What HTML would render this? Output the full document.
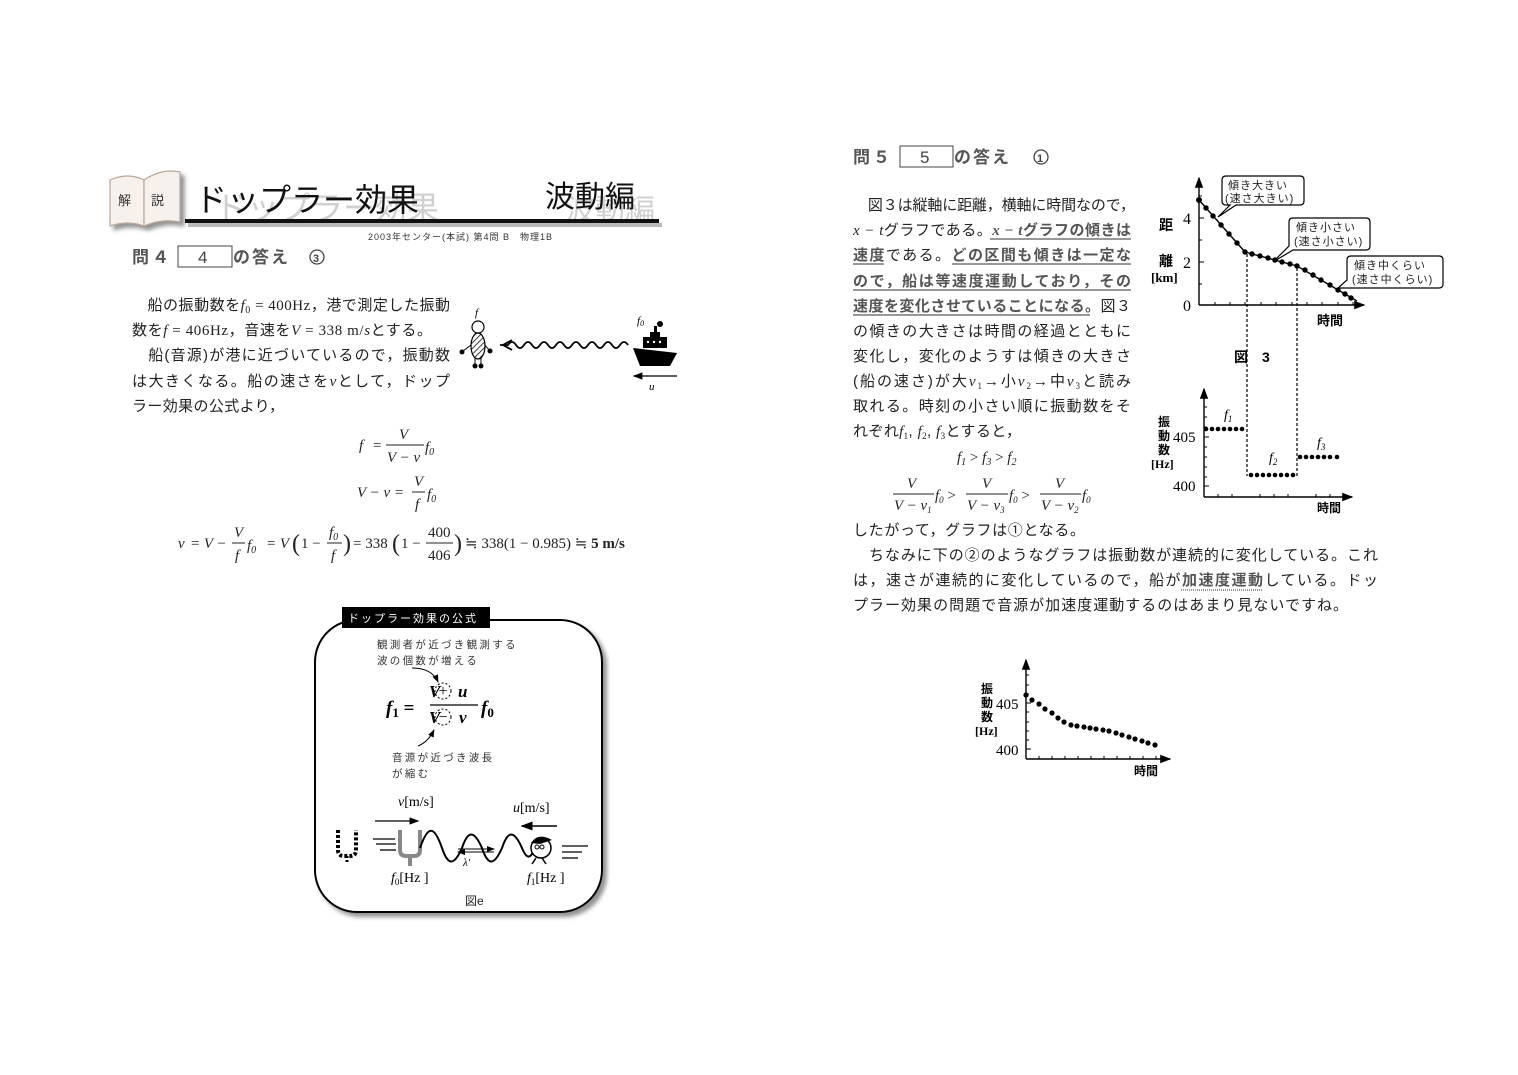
<!DOCTYPE html>
<html><head><meta charset="utf-8"><style>
html,body{margin:0;padding:0;background:#fff}
svg{display:block}
.j{font-family:"Liberation Sans","Noto Sans CJK JP",sans-serif}
.m{font-family:"Liberation Serif","DejaVu Serif",serif;font-style:italic}
.r{font-family:"Liberation Serif","DejaVu Serif",serif}
</style></head><body>
<svg width="1518" height="1075" viewBox="0 0 1518 1075" xmlns="http://www.w3.org/2000/svg">
<defs>
<filter id="sh" x="-10%" y="-10%" width="130%" height="130%"><feDropShadow dx="4" dy="4" stdDeviation="2" flood-color="#777" flood-opacity="0.8"/></filter>
<marker id="ah" markerWidth="8" markerHeight="8" refX="7" refY="4" orient="auto"><path d="M0,1 L8,4 L0,7 z" fill="#000"/></marker>
<pattern id="hatch" width="4" height="4" patternUnits="userSpaceOnUse" patternTransform="rotate(45)"><line x1="0" y1="0" x2="0" y2="4" stroke="#000" stroke-width="1.5"/></pattern>
</defs>

<!-- Book icon -->
<g filter="url(#sh)">
<path d="M110,180 Q128,172 144,180 L144,226 Q128,220 110,226 Z" fill="#f6f1ec" stroke="#b9a898" stroke-width="1.2"/>
<path d="M144,180 Q162,168 180,172 L180,222 Q162,218 144,226 Z" fill="#f6f1ec" stroke="#b9a898" stroke-width="1.2"/>
</g>
<text x="118" y="205" class="j" font-size="13" fill="#333">解</text>
<text x="151" y="205" class="j" font-size="13" fill="#333">説</text>

<!-- Title -->
<text x="215" y="219" class="j" font-size="32" fill="#d0d0d0">ドップラー効果</text>
<text x="195" y="211" class="j" font-size="32" fill="#111">ドップラー効果</text>
<text x="565" y="220" class="j" font-size="30" fill="#d0d0d0">波動編</text>
<text x="545" y="207" class="j" font-size="30" fill="#111">波動編</text>
<rect x="188" y="223" width="474" height="4" fill="#bbb"/>
<rect x="185" y="219" width="474" height="4" fill="#111"/>
<text x="368" y="240" class="j" font-size="9" fill="#333" letter-spacing="1">2003年センター(本試) 第4問 B　物理1B</text>

<!-- 問4 -->
<text x="132" y="263" class="j" font-size="17" font-weight="bold" fill="#555" letter-spacing="3">問４</text>
<rect x="178" y="246" width="54" height="21" fill="none" stroke="#444" stroke-width="1"/>
<text x="198" y="263" class="j" font-size="17" fill="#444">4</text>
<text x="233" y="263" class="j" font-size="17" font-weight="bold" fill="#555" letter-spacing="2">の答え</text>
<circle cx="317" cy="257" r="7" fill="none" stroke="#444" stroke-width="1.3"/>
<text x="313" y="262" class="j" font-size="11" font-weight="bold" fill="#444">3</text>

<!-- left paragraph -->
<g class="j" font-size="15" fill="#222">
<text x="132" y="310" textLength="318" lengthAdjust="spacing">　船の振動数を<tspan class="m">f</tspan><tspan class="r" font-size="10" dy="3">0</tspan><tspan class="r" dy="-3"> = 400Hz</tspan>，港で測定した振動</text>
<text x="132" y="335" textLength="300" lengthAdjust="spacing">数を<tspan class="m">f</tspan><tspan class="r"> = 406Hz</tspan>，音速を<tspan class="m">V</tspan><tspan class="r"> = 338 m/</tspan><tspan class="m">s</tspan>とする。</text>
<text x="132" y="360" textLength="318" lengthAdjust="spacing">　船(音源)が港に近づいているので，振動数</text>
<text x="132" y="386" textLength="318" lengthAdjust="spacing">は大きくなる。船の速さを<tspan class="m">v</tspan>として，ドップ</text>
<text x="132" y="411" textLength="152" lengthAdjust="spacing">ラー効果の公式より，</text>
</g>

<!-- observer & ship figure -->
<text x="475" y="316" class="m" font-size="11">f</text>
<circle cx="478" cy="327" r="6" fill="#fff" stroke="#000" stroke-width="1.2"/>
<ellipse cx="478" cy="346" rx="7" ry="13" fill="url(#hatch)" stroke="#000" stroke-width="1.2"/>
<line x1="471" y1="345" x2="463" y2="351" stroke="#000"/><circle cx="462" cy="352" r="2.5"/>
<line x1="485" y1="345" x2="489" y2="350" stroke="#000"/><circle cx="490" cy="351" r="2.5"/>
<line x1="475" y1="358" x2="475" y2="364" stroke="#000"/><line x1="481" y1="358" x2="481" y2="364" stroke="#000"/>
<circle cx="475" cy="366" r="2.5"/><circle cx="481" cy="366" r="2.5"/>
<path d="M628,345 q-4,-6 -8,0 q-4,6 -8,0 q-4,-6 -8,0 q-4,6 -8,0 q-4,-6 -8,0 q-4,6 -8,0 q-4,-6 -8,0 q-4,6 -8,0 q-4,-6 -8,0 q-4,6 -8,0 q-4,-6 -8,0 q-4,6 -8,0 q-4,-6 -8,0 q-4,6 -8,0 q-4,-6 -8,0 l-8,0" fill="none" stroke="#000" stroke-width="1.8"/>
<path d="M512,340 L503,345 L512,350" fill="none" stroke="#000" stroke-width="1.8"/>
<text x="637" y="324" class="m" font-size="11">f<tspan font-size="8" dy="2">0</tspan></text>
<path d="M633,348 L677,353 L670,366 L640,366 Z" fill="#000"/>
<rect x="643" y="337" width="24" height="11" fill="#000"/>
<rect x="650" y="332" width="10" height="6" fill="#000"/>
<rect x="654" y="326" width="3" height="7" fill="#000"/>
<circle cx="660" cy="324" r="3" fill="#000"/>
<circle cx="648" cy="342" r="1.2" fill="#fff"/><circle cx="654" cy="342" r="1.2" fill="#fff"/><circle cx="660" cy="342" r="1.2" fill="#fff"/>
<line x1="677" y1="376" x2="634" y2="376" stroke="#000" stroke-width="1.2" marker-end="url(#ah)"/>
<text x="649" y="390" class="m" font-size="11">u</text>

<!-- left formulas -->
<g class="m" font-size="15" fill="#222">
<text x="359" y="450">f</text><text x="372" y="450" class="r">=</text>
<text x="399" y="439">V</text><line x1="386" y1="445" x2="424" y2="445" stroke="#222"/>
<text x="387" y="462">V − v</text>
<text x="425" y="452">f<tspan font-size="10" dy="3" class="r">0</tspan></text>

<text x="357" y="497">V − v =</text>
<text x="414" y="486">V</text><line x1="412" y1="492" x2="425" y2="492" stroke="#222"/>
<text x="415" y="509">f</text>
<text x="427" y="499">f<tspan font-size="10" dy="3" class="r">0</tspan></text>

<text x="178" y="548">v</text><text x="190" y="548">= V −</text>
<text x="234" y="537">V</text><line x1="232" y1="543" x2="245" y2="543" stroke="#222"/>
<text x="235" y="560">f</text>
<text x="247" y="550">f<tspan font-size="10" dy="3" class="r">0</tspan></text>
<text x="266" y="548">= V</text>
<text x="292" y="551" class="r" font-size="24" font-style="normal">(</text>
<text x="301" y="548" class="r" font-style="normal">1 −</text>
<text x="329" y="537">f<tspan font-size="10" dy="3" class="r">0</tspan></text><line x1="327" y1="543" x2="342" y2="543" stroke="#222"/>
<text x="331" y="560">f</text>
<text x="343" y="551" class="r" font-size="24" font-style="normal">)</text>
<text x="353" y="548" class="r" font-style="normal">= 338</text>
<text x="392" y="551" class="r" font-size="24" font-style="normal">(</text>
<text x="401" y="548" class="r" font-style="normal">1 −</text>
<text x="428" y="537" class="r" font-style="normal">400</text><line x1="426" y1="543" x2="453" y2="543" stroke="#222"/>
<text x="428" y="560" class="r" font-style="normal">406</text>
<text x="454" y="551" class="r" font-size="24" font-style="normal">)</text>
<text x="465" y="548" class="r" font-style="normal">≒ 338(1 − 0.985) ≒ <tspan font-weight="bold">5 m/s</tspan></text>
</g>

<!-- formula box -->
<rect x="315" y="620" width="287" height="292" rx="42" ry="42" fill="#fff" stroke="#000" stroke-width="2" filter="url(#sh)"/>
<rect x="342" y="607" width="148" height="21" fill="#000"/>
<text x="348" y="622" class="j" font-size="11" fill="#fff" letter-spacing="2">ドップラー効果の公式</text>
<text x="377" y="648" class="j" font-size="10.5" fill="#333" letter-spacing="2.3">観測者が近づき観測する</text>
<text x="377" y="664" class="j" font-size="10.5" fill="#333" letter-spacing="2.3">波の個数が増える</text>
<path d="M412,668 Q432,668 438,682" fill="none" stroke="#000" stroke-width="1" marker-end="url(#ah)"/>
<text x="386" y="714" class="m" font-size="19" font-weight="bold">f<tspan font-size="13" dy="3" class="r" font-style="normal">1</tspan><tspan dy="-3" class="r" font-style="normal"> =</tspan></text>
<text x="429" y="697" class="m" font-size="17" font-weight="bold">V</text>
<text x="443" y="696" class="r" font-size="16" text-anchor="middle">+</text>
<text x="458" y="697" class="m" font-size="17" font-weight="bold">u</text>
<line x1="430" y1="705" x2="478" y2="705" stroke="#000" stroke-width="1.3"/>
<text x="429" y="723" class="m" font-size="17" font-weight="bold">V</text>
<text x="443" y="722" class="r" font-size="16" text-anchor="middle">−</text>
<text x="459" y="723" class="m" font-size="17" font-weight="bold">v</text>
<circle cx="443" cy="691" r="8" fill="none" stroke="#000" stroke-dasharray="2,2"/>
<circle cx="443" cy="717" r="8" fill="none" stroke="#000" stroke-dasharray="2,2"/>
<text x="481" y="714" class="m" font-size="19" font-weight="bold">f<tspan font-size="13" dy="3" class="r" font-style="normal">0</tspan></text>
<path d="M418,746 Q428,742 434,730" fill="none" stroke="#000" stroke-width="1" marker-end="url(#ah)"/>
<text x="392" y="761" class="j" font-size="10.5" fill="#333" letter-spacing="2.3">音源が近づき波長</text>
<text x="392" y="777" class="j" font-size="10.5" fill="#333" letter-spacing="2.3">が縮む</text>
<text x="398" y="806" class="r" font-size="14"><tspan class="m">v</tspan>[m/s]</text>
<line x1="375" y1="821" x2="418" y2="821" stroke="#000" stroke-width="1.2" marker-end="url(#ah)"/>
<text x="513" y="812" class="r" font-size="14"><tspan class="m">u</tspan>[m/s]</text>
<line x1="557" y1="826" x2="522" y2="826" stroke="#000" stroke-width="1.5" marker-end="url(#ah)"/>
<path d="M338,830 L338,850 Q338,856 344,856 L350,856 Q356,856 356,850 L356,830" fill="none" stroke="#000" stroke-width="4" stroke-dasharray="3,2"/>
<line x1="347" y1="856" x2="347" y2="864" stroke="#000" stroke-width="3" stroke-dasharray="2,2"/>
<line x1="373" y1="839" x2="395" y2="839" stroke="#000" stroke-width="1.3"/>
<line x1="376" y1="844" x2="396" y2="844" stroke="#000" stroke-width="1.3"/>
<line x1="380" y1="850" x2="396" y2="850" stroke="#000" stroke-width="1.3"/>
<path d="M400,830 L400,850 Q400,856 406,856 L414,856 Q420,856 420,850 L420,830" fill="none" stroke="#888" stroke-width="4"/>
<line x1="410" y1="856" x2="410" y2="866" stroke="#888" stroke-width="4"/>
<path d="M420,848 C428,825 434,825 442,848 C448,866 454,866 462,848 C468,830 474,830 482,848 C488,866 494,866 502,848 C508,830 514,830 522,848 C526,858 530,860 534,850" fill="none" stroke="#000" stroke-width="2"/>
<line x1="458" y1="849" x2="494" y2="849" stroke="#000" stroke-width="1" marker-end="url(#ah)"/>
<line x1="494" y1="852" x2="458" y2="852" stroke="#000" stroke-width="1" marker-end="url(#ah)"/>
<text x="463" y="866" class="m" font-size="11">λ'</text>
<circle cx="541" cy="848" r="10" fill="#fff" stroke="#000" stroke-width="1.5"/>
<path d="M531,843 Q538,832 552,840 L540,844 Z" fill="#000"/>
<circle cx="537" cy="847" r="2" fill="none" stroke="#000"/><circle cx="542" cy="847" r="2" fill="none" stroke="#000"/>
<line x1="536" y1="858" x2="532" y2="864" stroke="#000" stroke-width="1.5"/>
<line x1="542" y1="858" x2="546" y2="864" stroke="#000" stroke-width="1.5"/>
<line x1="562" y1="846" x2="588" y2="846" stroke="#000" stroke-width="1.3"/>
<line x1="562" y1="852" x2="582" y2="852" stroke="#000" stroke-width="1.3"/>
<line x1="562" y1="858" x2="578" y2="858" stroke="#000" stroke-width="1.3"/>
<text x="391" y="882" class="r" font-size="14"><tspan class="m">f</tspan><tspan font-size="9" dy="3">0</tspan><tspan dy="-3">[Hz ]</tspan></text>
<text x="527" y="882" class="r" font-size="14"><tspan class="m">f</tspan><tspan font-size="9" dy="3">1</tspan><tspan dy="-3">[Hz ]</tspan></text>
<text x="465" y="905" class="j" font-size="12" fill="#222">図e</text>

<!-- 問5 -->
<text x="853" y="163" class="j" font-size="17" font-weight="bold" fill="#555" letter-spacing="3">問５</text>
<rect x="900" y="146" width="53" height="21" fill="none" stroke="#444" stroke-width="1"/>
<text x="920" y="163" class="j" font-size="17" fill="#444">5</text>
<text x="954" y="163" class="j" font-size="17" font-weight="bold" fill="#555" letter-spacing="2">の答え</text>
<circle cx="1041" cy="157" r="7" fill="none" stroke="#444" stroke-width="1.3"/>
<text x="1037" y="162" class="j" font-size="11" font-weight="bold" fill="#444">1</text>

<g class="j" font-size="15" fill="#222">
<text x="853" y="210" textLength="282" lengthAdjust="spacing">　図３は縦軸に距離，横軸に時間なので，</text>
<text x="853" y="235" textLength="278" lengthAdjust="spacing"><tspan class="m">x − t</tspan>グラフである。<tspan font-weight="bold" fill="#555"><tspan class="m">x − t</tspan>グラフの傾きは</tspan></text>
<text x="853" y="260" textLength="278" lengthAdjust="spacing" font-weight="bold" fill="#555">速度<tspan font-weight="normal" fill="#222">である。</tspan>どの区間も傾きは一定な</text>
<text x="853" y="286" textLength="278" lengthAdjust="spacing" font-weight="bold" fill="#555">ので，船は等速度運動しており，その</text>
<text x="853" y="311" textLength="278" lengthAdjust="spacing"><tspan font-weight="bold" fill="#555">速度を変化させていることになる。</tspan>図３</text>
<text x="853" y="336" textLength="278" lengthAdjust="spacing">の傾きの大きさは時間の経過とともに</text>
<text x="853" y="361" textLength="278" lengthAdjust="spacing">変化し，変化のようすは傾きの大きさ</text>
<text x="853" y="386" textLength="278" lengthAdjust="spacing">(船の速さ)が大<tspan class="m">v</tspan><tspan class="r" font-size="9" dy="3">1</tspan><tspan dy="-3">→小</tspan><tspan class="m">v</tspan><tspan class="r" font-size="9" dy="3">2</tspan><tspan dy="-3">→中</tspan><tspan class="m">v</tspan><tspan class="r" font-size="9" dy="3">3</tspan><tspan dy="-3">と読み</tspan></text>
<text x="853" y="411" textLength="278" lengthAdjust="spacing">取れる。時刻の小さい順に振動数をそ</text>
<text x="853" y="436" textLength="168" lengthAdjust="spacing">れぞれ<tspan class="m">f</tspan><tspan class="r" font-size="9" dy="3">1</tspan><tspan dy="-3">, </tspan><tspan class="m">f</tspan><tspan class="r" font-size="9" dy="3">2</tspan><tspan dy="-3">, </tspan><tspan class="m">f</tspan><tspan class="r" font-size="9" dy="3">3</tspan><tspan dy="-3">とすると，</tspan></text>
</g>
<g stroke="#777" stroke-width="1.6">
<line x1="990" y1="239" x2="1131" y2="239"/>
<line x1="853" y1="264" x2="884" y2="264"/><line x1="952" y1="264" x2="1131" y2="264"/>
<line x1="853" y1="290" x2="1131" y2="290"/>
<line x1="853" y1="315" x2="1090" y2="315"/>
</g>

<g class="m" font-size="15" fill="#222">
<text x="957" y="462">f<tspan class="r" font-size="10" dy="3">1</tspan><tspan class="r" font-style="normal" dy="-3"> &gt; </tspan>f<tspan class="r" font-size="10" dy="3">3</tspan><tspan class="r" font-style="normal" dy="-3"> &gt; </tspan>f<tspan class="r" font-size="10" dy="3">2</tspan></text>
<text x="907" y="488">V</text><line x1="893" y1="494" x2="934" y2="494" stroke="#222"/>
<text x="894" y="510">V − v<tspan class="r" font-size="9" dy="3">1</tspan></text>
<text x="935" y="500">f<tspan class="r" font-size="9" dy="3">0</tspan><tspan class="r" dy="-3" font-style="normal"> &gt;</tspan></text>
<text x="982" y="488">V</text><line x1="966" y1="494" x2="1008" y2="494" stroke="#222"/>
<text x="967" y="510">V − v<tspan class="r" font-size="9" dy="3">3</tspan></text>
<text x="1009" y="500">f<tspan class="r" font-size="9" dy="3">0</tspan><tspan class="r" dy="-3" font-style="normal"> &gt;</tspan></text>
<text x="1055" y="488">V</text><line x1="1040" y1="494" x2="1081" y2="494" stroke="#222"/>
<text x="1041" y="510">V − v<tspan class="r" font-size="9" dy="3">2</tspan></text>
<text x="1082" y="500">f<tspan class="r" font-size="9" dy="3">0</tspan></text>
</g>

<g class="j" font-size="15" fill="#222">
<text x="853" y="535" textLength="232" lengthAdjust="spacing">したがって，グラフは①となる。</text>
<text x="853" y="560" textLength="525" lengthAdjust="spacing">　ちなみに下の②のようなグラフは振動数が連続的に変化している。これ</text>
<text x="853" y="585" textLength="525" lengthAdjust="spacing">は，速さが連続的に変化しているので，船が<tspan fill="#555" font-weight="bold">加速度運動</tspan>している。ドッ</text>
<text x="853" y="610" textLength="495" lengthAdjust="spacing">プラー効果の問題で音源が加速度運動するのはあまり見ないですね。</text>
</g>
<line x1="1181" y1="590" x2="1262" y2="590" stroke="#777" stroke-width="1.4" stroke-dasharray="1,1"/>

<!-- top graph -->
<line x1="1199" y1="305" x2="1199" y2="178" stroke="#000" stroke-width="1.4" marker-end="url(#ah)"/>
<line x1="1199" y1="305" x2="1364" y2="305" stroke="#000" stroke-width="1.4" marker-end="url(#ah)"/>
<g stroke="#000" stroke-width="1">
<line x1="1199" y1="218" x2="1204" y2="218"/><line x1="1199" y1="262" x2="1204" y2="262"/>
<line x1="1199" y1="196" x2="1202" y2="196"/><line x1="1199" y1="240" x2="1202" y2="240"/><line x1="1199" y1="284" x2="1202" y2="284"/>
<line x1="1215" y1="305" x2="1215" y2="302"/><line x1="1230" y1="305" x2="1230" y2="302"/><line x1="1245" y1="305" x2="1245" y2="302"/><line x1="1261" y1="305" x2="1261" y2="302"/><line x1="1276" y1="305" x2="1276" y2="302"/><line x1="1292" y1="305" x2="1292" y2="302"/><line x1="1307" y1="305" x2="1307" y2="302"/><line x1="1322" y1="305" x2="1322" y2="302"/><line x1="1338" y1="305" x2="1338" y2="302"/><line x1="1353" y1="305" x2="1353" y2="302"/>
</g>
<polyline points="1199,200 1245,252 1297,266 1357,301" fill="none" stroke="#000" stroke-width="1.4"/>
<g fill="#000">
<circle cx="1199" cy="200" r="3"/><circle cx="1206" cy="208" r="2.7"/><circle cx="1213" cy="216" r="2.7"/><circle cx="1221" cy="225" r="2.7"/><circle cx="1229" cy="234" r="2.7"/><circle cx="1237" cy="243" r="2.7"/><circle cx="1245" cy="252" r="2.7"/>
<circle cx="1252" cy="254" r="2.7"/><circle cx="1260" cy="256" r="2.7"/><circle cx="1268" cy="258" r="2.7"/><circle cx="1275" cy="260" r="2.7"/><circle cx="1282" cy="262" r="2.7"/><circle cx="1290" cy="264" r="2.7"/><circle cx="1297" cy="266" r="2.7"/>
<circle cx="1305" cy="270" r="2.7"/><circle cx="1313" cy="275" r="2.7"/><circle cx="1321" cy="280" r="2.7"/><circle cx="1330" cy="285" r="2.7"/><circle cx="1338" cy="290" r="2.7"/><circle cx="1345" cy="294" r="2.7"/><circle cx="1351" cy="298" r="2.7"/>
</g>
<text x="1183" y="224" class="r" font-size="16">4</text>
<text x="1183" y="268" class="r" font-size="16">2</text>
<text x="1183" y="311" class="r" font-size="16">0</text>
<text x="1159" y="230" class="j" font-size="14" font-weight="bold">距</text>
<text x="1159" y="266" class="j" font-size="14" font-weight="bold">離</text>
<text x="1151" y="282" class="r" font-size="13" font-weight="bold">[km]</text>
<text x="1317" y="325" class="j" font-size="13" font-weight="bold">時間</text>
<g class="j" font-size="11" fill="#222" letter-spacing="1">
<path d="M1226,176 L1300,176 Q1304,176 1304,180 L1304,201 Q1304,205 1300,205 L1236,205 L1218,217 L1230,205 L1226,205 Q1222,205 1222,201 L1222,180 Q1222,176 1226,176 Z" fill="#fff" stroke="#000" stroke-width="1.2"/>
<text x="1228" y="189">傾き大きい</text><text x="1225" y="202">(速さ大きい)</text>
<path d="M1293,218 L1366,218 Q1370,218 1370,222 L1370,246 Q1370,250 1366,250 L1293,250 L1273,262 L1289,246 L1289,222 Q1289,218 1293,218 Z" fill="#fff" stroke="#000" stroke-width="1.2"/>
<text x="1296" y="231">傾き小さい</text><text x="1294" y="245">(速さ小さい)</text>
<path d="M1351,256 L1439,256 Q1443,256 1443,260 L1443,284 Q1443,288 1439,288 L1351,288 L1338,288 L1347,280 L1347,260 Q1347,256 1351,256 Z" fill="#fff" stroke="#000" stroke-width="1.2"/>
<text x="1354" y="269">傾き中くらい</text><text x="1352" y="283">(速さ中くらい)</text>
</g>
<text x="1234" y="362" class="j" font-size="14" font-weight="bold" letter-spacing="14">図3</text>
<line x1="1247" y1="254" x2="1247" y2="476" stroke="#000" stroke-width="1.2" stroke-dasharray="3,2"/>
<line x1="1297" y1="268" x2="1297" y2="476" stroke="#000" stroke-width="1.2" stroke-dasharray="3,2"/>

<!-- middle graph -->
<line x1="1204" y1="497" x2="1204" y2="389" stroke="#000" stroke-width="1.4" marker-end="url(#ah)"/>
<line x1="1204" y1="497" x2="1352" y2="497" stroke="#000" stroke-width="1.4" marker-end="url(#ah)"/>
<g stroke="#000" stroke-width="1">
<line x1="1204" y1="437" x2="1209" y2="437"/><line x1="1204" y1="486" x2="1209" y2="486"/>
<line x1="1204" y1="407" x2="1207" y2="407"/><line x1="1204" y1="417" x2="1207" y2="417"/><line x1="1204" y1="427" x2="1207" y2="427"/><line x1="1204" y1="447" x2="1207" y2="447"/><line x1="1204" y1="457" x2="1207" y2="457"/><line x1="1204" y1="467" x2="1207" y2="467"/><line x1="1204" y1="477" x2="1207" y2="477"/>
<line x1="1218" y1="497" x2="1218" y2="494"/><line x1="1232" y1="497" x2="1232" y2="494"/><line x1="1260" y1="497" x2="1260" y2="494"/><line x1="1274" y1="497" x2="1274" y2="494"/><line x1="1288" y1="497" x2="1288" y2="494"/><line x1="1316" y1="497" x2="1316" y2="494"/><line x1="1330" y1="497" x2="1330" y2="494"/><line x1="1344" y1="497" x2="1344" y2="494"/>
</g>
<g fill="#000">
<circle cx="1206" cy="429" r="2.3"/><circle cx="1212" cy="429" r="2.3"/><circle cx="1218" cy="429" r="2.3"/><circle cx="1224" cy="429" r="2.3"/><circle cx="1230" cy="429" r="2.3"/><circle cx="1236" cy="429" r="2.3"/><circle cx="1242" cy="429" r="2.3"/>
<circle cx="1251" cy="475" r="2.3"/><circle cx="1257" cy="475" r="2.3"/><circle cx="1263" cy="475" r="2.3"/><circle cx="1269" cy="475" r="2.3"/><circle cx="1275" cy="475" r="2.3"/><circle cx="1281" cy="475" r="2.3"/><circle cx="1287" cy="475" r="2.3"/><circle cx="1293" cy="475" r="2.3"/>
<circle cx="1300" cy="457" r="2.3"/><circle cx="1306" cy="457" r="2.3"/><circle cx="1312" cy="457" r="2.3"/><circle cx="1318" cy="457" r="2.3"/><circle cx="1324" cy="457" r="2.3"/><circle cx="1330" cy="457" r="2.3"/><circle cx="1337" cy="457" r="2.3"/>
</g>
<text x="1224" y="419" class="m" font-size="14">f<tspan class="r" font-size="9" dy="3">1</tspan></text>
<text x="1269" y="462" class="m" font-size="14">f<tspan class="r" font-size="9" dy="3">2</tspan></text>
<text x="1317" y="447" class="m" font-size="14">f<tspan class="r" font-size="9" dy="3">3</tspan></text>
<text x="1173" y="442" class="r" font-size="15">405</text>
<text x="1173" y="491" class="r" font-size="15">400</text>
<text x="1158" y="426" class="j" font-size="12" font-weight="bold">振</text>
<text x="1158" y="440" class="j" font-size="12" font-weight="bold">動</text>
<text x="1158" y="454" class="j" font-size="12" font-weight="bold">数</text>
<text x="1151" y="468" class="r" font-size="12" font-weight="bold">[Hz]</text>
<text x="1317" y="512" class="j" font-size="12" font-weight="bold">時間</text>

<!-- bottom graph -->
<line x1="1026" y1="759" x2="1026" y2="660" stroke="#000" stroke-width="1.4" marker-end="url(#ah)"/>
<line x1="1026" y1="759" x2="1170" y2="759" stroke="#000" stroke-width="1.4" marker-end="url(#ah)"/>
<g stroke="#000" stroke-width="1">
<line x1="1026" y1="703" x2="1031" y2="703"/><line x1="1026" y1="749" x2="1031" y2="749"/>
<line x1="1026" y1="675" x2="1029" y2="675"/><line x1="1026" y1="685" x2="1029" y2="685"/><line x1="1026" y1="694" x2="1029" y2="694"/><line x1="1026" y1="712" x2="1029" y2="712"/><line x1="1026" y1="722" x2="1029" y2="722"/><line x1="1026" y1="731" x2="1029" y2="731"/><line x1="1026" y1="740" x2="1029" y2="740"/>
<line x1="1039" y1="759" x2="1039" y2="756"/><line x1="1052" y1="759" x2="1052" y2="756"/><line x1="1065" y1="759" x2="1065" y2="756"/><line x1="1078" y1="759" x2="1078" y2="756"/><line x1="1091" y1="759" x2="1091" y2="756"/><line x1="1104" y1="759" x2="1104" y2="756"/><line x1="1117" y1="759" x2="1117" y2="756"/><line x1="1130" y1="759" x2="1130" y2="756"/><line x1="1143" y1="759" x2="1143" y2="756"/><line x1="1156" y1="759" x2="1156" y2="756"/>
</g>
<g fill="#000">
<circle cx="1026" cy="695" r="2.6"/><circle cx="1032" cy="700" r="2.6"/><circle cx="1039" cy="704" r="2.6"/><circle cx="1045" cy="709" r="2.6"/><circle cx="1052" cy="713" r="2.6"/><circle cx="1058" cy="718" r="2.6"/><circle cx="1064" cy="722" r="2.6"/><circle cx="1071" cy="725" r="2.6"/><circle cx="1077" cy="726" r="2.6"/><circle cx="1084" cy="727" r="2.6"/><circle cx="1090" cy="728" r="2.6"/><circle cx="1096" cy="729" r="2.6"/><circle cx="1103" cy="730" r="2.6"/><circle cx="1109" cy="731" r="2.6"/><circle cx="1116" cy="733" r="2.6"/><circle cx="1122" cy="735" r="2.6"/><circle cx="1129" cy="737" r="2.6"/><circle cx="1135" cy="739" r="2.6"/><circle cx="1142" cy="741" r="2.6"/><circle cx="1148" cy="743" r="2.6"/><circle cx="1155" cy="745" r="2.6"/>
</g>
<text x="996" y="709" class="r" font-size="15">405</text>
<text x="996" y="755" class="r" font-size="15">400</text>
<text x="981" y="693" class="j" font-size="12" font-weight="bold">振</text>
<text x="981" y="707" class="j" font-size="12" font-weight="bold">動</text>
<text x="981" y="721" class="j" font-size="12" font-weight="bold">数</text>
<text x="975" y="735" class="r" font-size="12" font-weight="bold">[Hz]</text>
<text x="1134" y="775" class="j" font-size="12" font-weight="bold">時間</text>
</svg>
</body></html>
